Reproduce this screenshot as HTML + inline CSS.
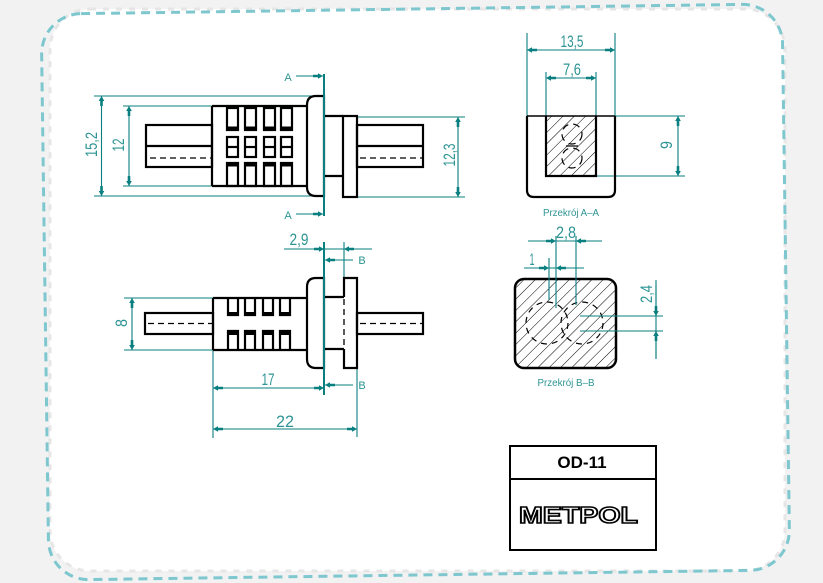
<!DOCTYPE html>
<html><head><meta charset="utf-8">
<style>
html,body{margin:0;padding:0;background:#f2f2f2;}
svg{display:block}
text{font-family:"Liberation Sans",sans-serif;}
</style></head><body>
<svg width="823" height="583" viewBox="0 0 823 583" xmlns="http://www.w3.org/2000/svg">
<defs>
<marker id="ar" viewBox="-10 -3 10 6" refX="0" refY="0" markerWidth="10" markerHeight="6" markerUnits="userSpaceOnUse" orient="auto-start-reverse">
<path d="M-10,-1.3 L-5,-1.3 L-5,-2.8 L0,0 L-5,2.8 L-5,1.3 L-10,1.3Z" fill="#0a7f80"/>
</marker>
<pattern id="h" width="8" height="8" patternUnits="userSpaceOnUse" patternTransform="rotate(45)">
<line x1="0" y1="0" x2="0" y2="8" stroke="#000" stroke-width="1"/>
</pattern>
</defs>
<rect width="823" height="583" fill="#f2f2f2"/>
<!-- frame -->
<rect x="50" y="9" width="735" height="562" rx="40" fill="#fff" stroke="#e6e6e6" stroke-width="3" stroke-dasharray="6 7"/>
<g transform="rotate(-0.8 415.5 292)">
<rect x="45" y="9" width="741" height="566" rx="40" fill="none" stroke="#7ec7cf" stroke-width="3" stroke-dasharray="9 6"/>
</g>

<!-- ================= TOP VIEW ================= -->
<g stroke="#0a7f80" stroke-width="1.1" fill="none">
<line x1="94" y1="96" x2="316" y2="96"/>
<line x1="94" y1="196" x2="316" y2="196"/>
<line x1="123" y1="106" x2="212" y2="106"/>
<line x1="123" y1="186" x2="212" y2="186"/>
<line x1="101.5" y1="96" x2="101.5" y2="196" marker-start="url(#ar)" marker-end="url(#ar)"/>
<line x1="129" y1="106" x2="129" y2="186" marker-start="url(#ar)" marker-end="url(#ar)"/>
<line x1="357" y1="117" x2="465" y2="117"/>
<line x1="357" y1="197" x2="465" y2="197"/>
<line x1="458" y1="117" x2="458" y2="197" marker-start="url(#ar)" marker-end="url(#ar)"/>
<line x1="296" y1="76" x2="323" y2="76" marker-end="url(#ar)"/>
<line x1="296" y1="214" x2="323" y2="214" marker-end="url(#ar)"/>
</g>
<g stroke="#000" stroke-width="2.2" fill="none">
<rect x="146" y="125" width="66" height="42"/>
<line x1="146" y1="146" x2="212" y2="146"/>
<line x1="212" y1="106" x2="308" y2="106"/>
<line x1="212" y1="186" x2="308" y2="186"/>
<line x1="212" y1="106" x2="212" y2="186"/>
<path d="M324,96 H316 Q307,96 307,105 V187 Q307,196 316,196 H324 Z"/>
<line x1="324" y1="116" x2="343" y2="116"/>
<line x1="324" y1="176" x2="343" y2="176"/>
<rect x="343" y="116" width="14" height="81"/>
<rect x="357" y="125" width="66" height="42"/>
<line x1="357" y1="146" x2="423" y2="146"/>
<!-- windows -->
<rect x="227" y="108" width="11" height="22"/><rect x="245" y="108" width="11" height="22"/><rect x="264" y="108" width="11" height="22"/><rect x="281" y="108" width="11" height="22"/>
<rect x="227" y="137" width="11" height="20"/><rect x="245" y="137" width="11" height="20"/><rect x="264" y="137" width="11" height="20"/><rect x="281" y="137" width="11" height="20"/>
<line x1="227" y1="147" x2="238" y2="147"/><line x1="245" y1="147" x2="256" y2="147"/><line x1="264" y1="147" x2="275" y2="147"/><line x1="281" y1="147" x2="292" y2="147"/>
<rect x="227" y="163" width="11" height="23"/><rect x="245" y="163" width="11" height="23"/><rect x="264" y="163" width="11" height="23"/><rect x="281" y="163" width="11" height="23"/>
</g>
<g fill="#000">
<rect x="227" y="126.5" width="11" height="3.5"/><rect x="245" y="126.5" width="11" height="3.5"/><rect x="264" y="126.5" width="11" height="3.5"/><rect x="281" y="126.5" width="11" height="3.5"/>
<rect x="227" y="163" width="11" height="3.5"/><rect x="245" y="163" width="11" height="3.5"/><rect x="264" y="163" width="11" height="3.5"/><rect x="281" y="163" width="11" height="3.5"/>
</g>
<g stroke="#000" stroke-width="1.3" stroke-dasharray="6 4">
<line x1="150" y1="158" x2="212" y2="158"/>
<line x1="360" y1="158" x2="423" y2="158"/>
</g>
<line x1="324" y1="74" x2="324" y2="216" stroke="#0a7f80" stroke-width="2"/>

<!-- ================= BOTTOM VIEW ================= -->
<g stroke="#0a7f80" stroke-width="1.1" fill="none">
<line x1="124" y1="298" x2="213" y2="298"/>
<line x1="124" y1="350" x2="213" y2="350"/>
<line x1="132" y1="298" x2="132" y2="350" marker-start="url(#ar)" marker-end="url(#ar)"/>
<line x1="213" y1="350" x2="213" y2="438"/>
<line x1="357" y1="368" x2="357" y2="437"/>
<line x1="213" y1="388" x2="324" y2="388" marker-start="url(#ar)" marker-end="url(#ar)"/>
<line x1="213" y1="429" x2="357" y2="429" marker-start="url(#ar)" marker-end="url(#ar)"/>
<line x1="344" y1="242" x2="344" y2="278"/>
<line x1="284" y1="249" x2="372" y2="249"/>
<line x1="300" y1="249" x2="324" y2="249" marker-end="url(#ar)"/>
<line x1="370" y1="249" x2="344" y2="249" marker-end="url(#ar)"/>
<line x1="353" y1="260" x2="325" y2="260" marker-end="url(#ar)"/>
<line x1="353" y1="385" x2="325" y2="385" marker-end="url(#ar)"/>
</g>
<g stroke="#000" stroke-width="2.2" fill="none">
<rect x="145" y="313" width="68" height="21"/>
<line x1="213" y1="298" x2="308" y2="298"/>
<line x1="213" y1="350" x2="308" y2="350"/>
<line x1="213" y1="298" x2="213" y2="350"/>
<path d="M324,278 H316 Q307,278 307,287 V359 Q307,368 316,368 H324 Z"/>
<line x1="324" y1="297" x2="344" y2="297"/>
<line x1="324" y1="349" x2="344" y2="349"/>
<path d="M344,297 V278 H357 V368 H344 V349"/>
<rect x="357" y="313" width="66" height="21"/>
<path d="M228,298 V315 H238 V298"/><path d="M245,298 V315 H255 V298"/><path d="M263,298 V315 H273 V298"/><path d="M280,298 V315 H290 V298"/>
<path d="M228,350 V331 H238 V350"/><path d="M245,350 V331 H255 V350"/><path d="M263,350 V331 H273 V350"/><path d="M280,350 V331 H290 V350"/>
</g>
<g fill="#000">
<rect x="228" y="312" width="10" height="4"/><rect x="245" y="312" width="10" height="4"/><rect x="263" y="312" width="10" height="4"/><rect x="280" y="312" width="10" height="4"/>
<rect x="228" y="331" width="10" height="4"/><rect x="245" y="331" width="10" height="4"/><rect x="263" y="331" width="10" height="4"/><rect x="280" y="331" width="10" height="4"/>
</g>
<g stroke="#000" stroke-width="1.3" stroke-dasharray="6 4">
<line x1="148" y1="323.5" x2="213" y2="323.5"/>
<line x1="360" y1="323.5" x2="423" y2="323.5"/>
<line x1="344" y1="299" x2="344" y2="349"/>
</g>
<line x1="324" y1="242" x2="324" y2="395" stroke="#0a7f80" stroke-width="2"/>

<!-- ================= SECTION A-A ================= -->
<rect x="546" y="116" width="50" height="60" fill="url(#h)"/>
<g stroke="#0a7f80" stroke-width="1.1" fill="none">
<line x1="527" y1="33" x2="527" y2="116"/>
<line x1="615" y1="33" x2="615" y2="116"/>
<line x1="527" y1="50" x2="615" y2="50" marker-start="url(#ar)" marker-end="url(#ar)"/>
<line x1="546" y1="72" x2="546" y2="116"/>
<line x1="596" y1="72" x2="596" y2="116"/>
<line x1="546" y1="78" x2="596" y2="78" marker-start="url(#ar)" marker-end="url(#ar)"/>
<line x1="615" y1="116" x2="685" y2="116"/>
<line x1="596" y1="176" x2="685" y2="176"/>
<line x1="678" y1="116" x2="678" y2="176" marker-start="url(#ar)" marker-end="url(#ar)"/>
</g>
<g stroke="#000" stroke-width="2.2" fill="none">
<path d="M527,116 V190 Q527,197 534,197 H608 Q615,197 615,190 V116"/>
<line x1="527" y1="116" x2="615" y2="116" stroke-width="1.5"/>
<path d="M546,116 V176 H596 V116"/>
</g>
<g stroke="#000" stroke-width="1.2" fill="none" stroke-dasharray="7 5">
<circle cx="572" cy="134" r="10"/>
<circle cx="572" cy="158" r="10"/>
</g>
<line x1="566" y1="146" x2="578" y2="146" stroke="#000" stroke-width="1.2"/>

<!-- ================= SECTION B-B ================= -->
<rect x="515" y="279" width="101" height="89" rx="9" fill="url(#h)" stroke="#000" stroke-width="2.5"/>
<g stroke="#000" stroke-width="1.2" fill="none" stroke-dasharray="6 5">
<circle cx="547" cy="323" r="21"/>
<circle cx="582" cy="323" r="21"/>
</g>
<g stroke="#0a7f80" stroke-width="1.1" fill="none">
<line x1="556" y1="236" x2="556" y2="308"/>
<line x1="576" y1="236" x2="576" y2="305"/>
<line x1="549" y1="258" x2="549" y2="300"/>
<line x1="528" y1="241" x2="602" y2="241"/>
<line x1="532" y1="241" x2="556" y2="241" marker-end="url(#ar)"/>
<line x1="600" y1="241" x2="576" y2="241" marker-end="url(#ar)"/>
<line x1="524" y1="268" x2="584" y2="268"/>
<line x1="528" y1="268" x2="549" y2="268" marker-end="url(#ar)"/>
<line x1="580" y1="268" x2="556" y2="268" marker-end="url(#ar)"/>
<line x1="580" y1="316" x2="663" y2="316"/>
<line x1="580" y1="331" x2="663" y2="331"/>
<line x1="656" y1="280" x2="656" y2="359"/>
<line x1="656" y1="285" x2="656" y2="316" marker-end="url(#ar)"/>
<line x1="656" y1="358" x2="656" y2="331" marker-end="url(#ar)"/>
</g>

<!-- ================= TEXT ================= -->
<g fill="#2e9494" font-size="16.5" text-anchor="middle">
<text transform="translate(97,144.5) rotate(-90)" textLength="25" lengthAdjust="spacingAndGlyphs">15,2</text>
<text transform="translate(124,145) rotate(-90)" textLength="13" lengthAdjust="spacingAndGlyphs">12</text>
<text transform="translate(455,155) rotate(-90)" textLength="23" lengthAdjust="spacingAndGlyphs">12,3</text>
<text transform="translate(127,323) rotate(-90)" textLength="8" lengthAdjust="spacingAndGlyphs">8</text>
<text transform="translate(672,145) rotate(-90)" textLength="8" lengthAdjust="spacingAndGlyphs">9</text>
<text transform="translate(652,294) rotate(-90)" textLength="18" lengthAdjust="spacingAndGlyphs">2,4</text>
<text x="299" y="245" textLength="19" lengthAdjust="spacingAndGlyphs">2,9</text>
<text x="268" y="385" textLength="13" lengthAdjust="spacingAndGlyphs">17</text>
<text x="285" y="427" textLength="18" lengthAdjust="spacingAndGlyphs">22</text>
<text x="572" y="47" textLength="23" lengthAdjust="spacingAndGlyphs">13,5</text>
<text x="572" y="75" textLength="18" lengthAdjust="spacingAndGlyphs">7,6</text>
<text x="566" y="238" textLength="20" lengthAdjust="spacingAndGlyphs">2,8</text>
<text x="532" y="265" textLength="5" lengthAdjust="spacingAndGlyphs">1</text>
</g>
<g fill="#2e9494" font-size="11" text-anchor="middle">
<text x="288" y="81">A</text>
<text x="288" y="219">A</text>
<text x="362" y="264">B</text>
<text x="362" y="389">B</text>
<text x="571" y="216" font-size="10.5" textLength="56" lengthAdjust="spacingAndGlyphs">Przekrój A–A</text>
<text x="566" y="386" font-size="10.5" textLength="57" lengthAdjust="spacingAndGlyphs">Przekrój B–B</text>
</g>

<!-- ================= TITLE BLOCK ================= -->
<rect x="510" y="446" width="146" height="104" fill="none" stroke="#000" stroke-width="2"/>
<line x1="510" y1="479" x2="656" y2="479" stroke="#000" stroke-width="2"/>
<text x="582" y="468" font-size="17" font-weight="bold" text-anchor="middle" fill="#000">OD-11</text>
<text x="578.5" y="523" font-size="23" font-weight="bold" text-anchor="middle" fill="#fff" stroke="#000" stroke-width="1.6" textLength="119" lengthAdjust="spacingAndGlyphs">METPOL</text>
</svg>
</body></html>
